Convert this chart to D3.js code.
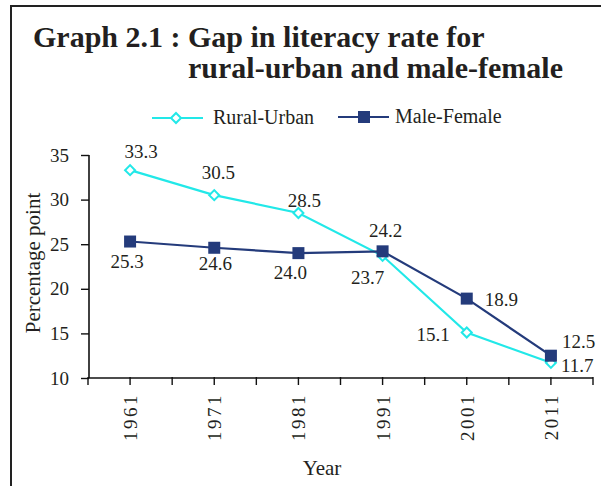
<!DOCTYPE html>
<html><head><meta charset="utf-8">
<script src="https://cdn.jsdelivr.net/npm/d3@7"></script>
<style>
body{margin:0;background:#fff;}
svg{display:block;font-family:"Liberation Serif","Times New Roman",serif;}
</style></head>
<body><svg id="c" width="601" height="486"></svg>
<script>
const years = ["1961","1971","1981","1991","2001","2011"];
const ruralUrban = [33.3, 30.5, 28.5, 23.7, 15.1, 11.7];
const maleFemale = [25.3, 24.6, 24.0, 24.2, 18.9, 12.5];
const yTicks = [10, 15, 20, 25, 30, 35];
const seriesNames = ["Rural-Urban", "Male-Female"];

// label placement (dx, baseline dy, anchor) per point
const ruLabelPos = [[11,-12,"middle"],[4,-16,"middle"],[6,-6,"middle"],[-15,28,"middle"],[-17,8,"end"],[10,9,"start"]];
const mfLabelPos = [[-3,26,"middle"],[1,22,"middle"],[-8,26,"middle"],[3,-14,"middle"],[18,7,"start"],[11,-8,"start"]];

const cyan = "#22e8e8", navy = "#243b7b";
const svg = d3.select("#c");

// frame
svg.append("line").attr("x1",11).attr("x2",601).attr("y1",6).attr("y2",6).attr("stroke","#222").attr("stroke-width",2);
svg.append("line").attr("x1",11).attr("x2",11).attr("y1",5).attr("y2",486).attr("stroke","#222").attr("stroke-width",2);

// title
svg.append("text").attr("x",33).attr("y",47).attr("font-size",30).attr("font-weight","bold").attr("fill","#231f20")
  .text("Graph 2.1 : Gap in literacy rate for");
svg.append("text").attr("x",188).attr("y",78).attr("font-size",30).attr("font-weight","bold").attr("fill","#231f20")
  .text("rural-urban and male-female");

const x = d3.scaleBand().domain(years).range([88,593]).padding(0);
const y = d3.scaleLinear().domain([10,35]).range([378,155]);
const cx = d => x(d) + x.bandwidth()/2;

// y axis
const ya = svg.append("g").attr("transform","translate(89,0)")
  .call(d3.axisLeft(y).tickValues(yTicks).tickSize(8).tickPadding(12).tickFormat(d3.format("d")));
ya.select(".domain").attr("stroke","#111").attr("stroke-width",1.6).attr("d","M0,155V378");
ya.selectAll(".tick line").attr("stroke","#111").attr("stroke-width",1.4);
ya.selectAll(".tick text").attr("font-size",19).attr("fill","#231f20").attr("font-family","Liberation Serif");

// x axis
const xa = svg.append("g").attr("transform","translate(0,378)");
xa.append("line").attr("x1",88).attr("x2",593).attr("y1",0).attr("y2",0).attr("stroke","#111").attr("stroke-width",1.6);
const tickXs = [];
years.forEach(d => { tickXs.push(x(d)); tickXs.push(cx(d)); });
tickXs.push(x(years[years.length-1]) + x.bandwidth());
xa.selectAll("line.t").data(tickXs).enter().append("line").attr("class","t")
  .attr("x1",d=>d).attr("x2",d=>d).attr("y1",-1).attr("y2",7).attr("stroke","#111").attr("stroke-width",1.4);
xa.selectAll("text.yl").data(years).enter().append("text").attr("class","yl")
  .attr("transform",d=>`translate(${cx(d)+7},15) rotate(-90)`)
  .attr("text-anchor","end").attr("font-size",19).attr("letter-spacing",2.5).attr("fill","#231f20").text(d=>d);

// axis titles
svg.append("text").attr("x",322).attr("y",475).attr("text-anchor","middle").attr("font-size",21).attr("fill","#231f20").text("Year");
svg.append("text").attr("transform","translate(40,263) rotate(-90)").attr("text-anchor","middle").attr("font-size",21).attr("fill","#231f20").text("Percentage point");

// lines
const line = d3.line().x((d,i)=>cx(years[i])).y(d=>y(d));
svg.append("path").datum(ruralUrban).attr("d",line).attr("fill","none").attr("stroke",cyan).attr("stroke-width",2.2);
svg.append("path").datum(maleFemale).attr("d",line).attr("fill","none").attr("stroke",navy).attr("stroke-width",2.2);

svg.selectAll("path.ru").data(ruralUrban).enter().append("path").attr("class","ru")
  .attr("d", d3.symbol().type(d3.symbolSquare).size(50)())
  .attr("transform",(d,i)=>`translate(${cx(years[i])},${y(d)}) rotate(45)`)
  .attr("fill","#fff").attr("stroke",cyan).attr("stroke-width",2);
svg.selectAll("rect.mf").data(maleFemale).enter().append("rect").attr("class","mf")
  .attr("x",(d,i)=>cx(years[i])-6).attr("y",d=>y(d)-6).attr("width",12).attr("height",12)
  .attr("fill",navy);

// data labels
svg.selectAll("text.rul").data(ruralUrban).enter().append("text").attr("class","rul")
  .attr("x",(d,i)=>cx(years[i])+ruLabelPos[i][0]).attr("y",(d,i)=>y(d)+ruLabelPos[i][1])
  .attr("text-anchor",(d,i)=>ruLabelPos[i][2]).attr("font-size",19).attr("fill","#231f20").text(d=>d.toFixed(1));
svg.selectAll("text.mfl").data(maleFemale).enter().append("text").attr("class","mfl")
  .attr("x",(d,i)=>cx(years[i])+mfLabelPos[i][0]).attr("y",(d,i)=>y(d)+mfLabelPos[i][1])
  .attr("text-anchor",(d,i)=>mfLabelPos[i][2]).attr("font-size",19).attr("fill","#231f20").text(d=>d.toFixed(1));

// legend
const lg = svg.append("g");
lg.append("line").attr("x1",152).attr("x2",203).attr("y1",118).attr("y2",118).attr("stroke",cyan).attr("stroke-width",2.2);
lg.append("path").attr("d", d3.symbol().type(d3.symbolSquare).size(50)()).attr("transform","translate(176,118) rotate(45)")
  .attr("fill","#fff").attr("stroke",cyan).attr("stroke-width",2);
lg.append("text").attr("x",213).attr("y",124).attr("font-size",20).attr("fill","#231f20").text(seriesNames[0]);
lg.append("line").attr("x1",338).attr("x2",389).attr("y1",117).attr("y2",117).attr("stroke",navy).attr("stroke-width",2.2);
lg.append("rect").attr("x",358).attr("y",111).attr("width",12).attr("height",12).attr("fill",navy);
lg.append("text").attr("x",395).attr("y",123).attr("font-size",20).attr("fill","#231f20").text(seriesNames[1]);
</script></body></html>
